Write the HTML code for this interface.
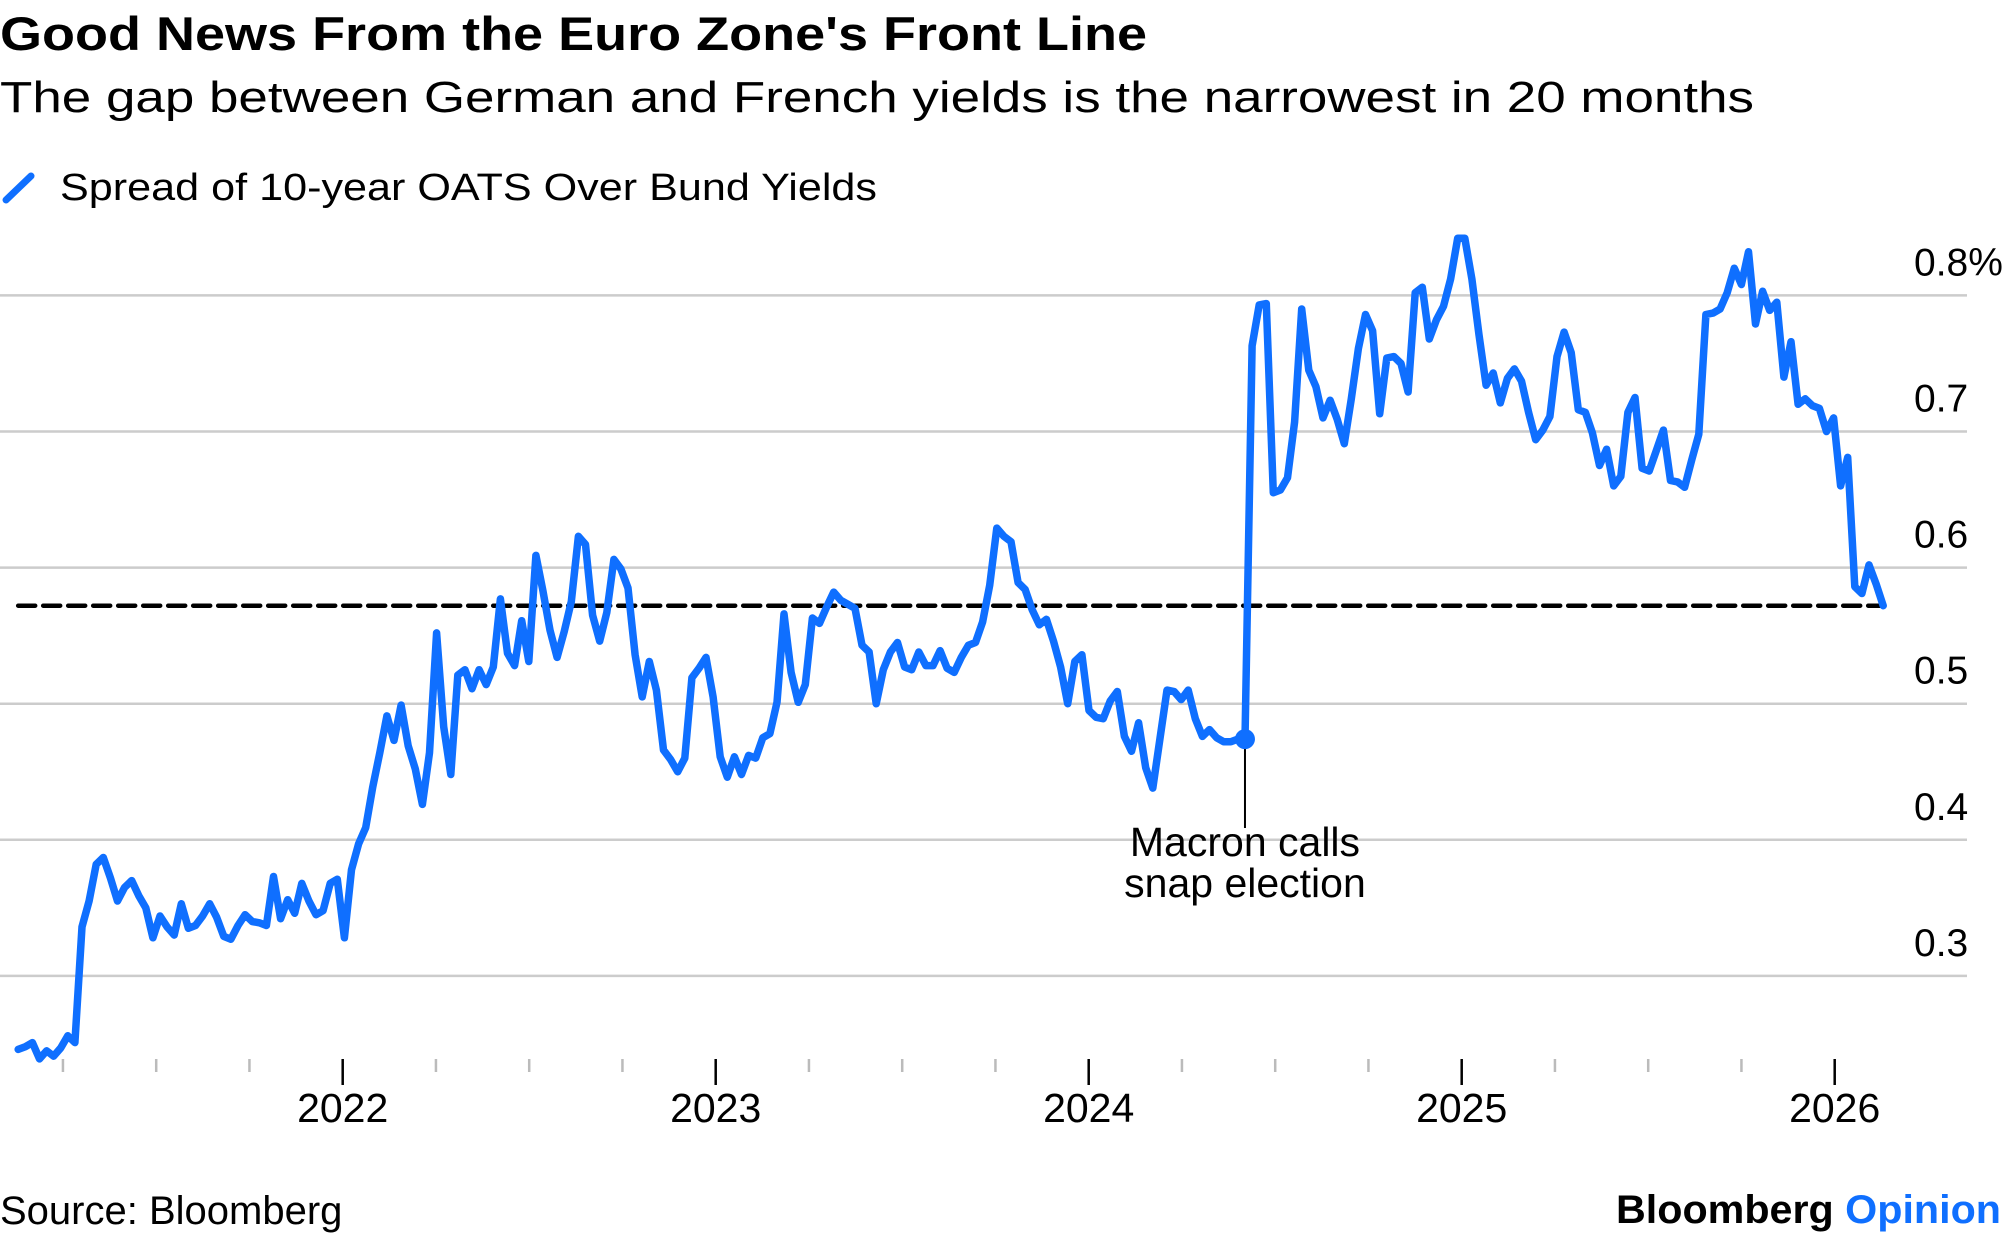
<!DOCTYPE html>
<html><head><meta charset="utf-8">
<style>
html,body{margin:0;padding:0;background:#fff;}
svg{display:block;font-family:"Liberation Sans",sans-serif;}
</style></head>
<body>
<svg id="chart" width="2005" height="1239" viewBox="0 0 2005 1239" xmlns="http://www.w3.org/2000/svg">
  <text x="0" y="50" font-size="47" font-weight="bold" fill="#000" textLength="1147" lengthAdjust="spacingAndGlyphs">Good News From the Euro Zone's Front Line</text>
  <text x="0" y="112" font-size="44" fill="#000" textLength="1754" lengthAdjust="spacingAndGlyphs">The gap between German and French yields is the narrowest in 20 months</text>
  <g>
    <line x1="6" y1="200" x2="31" y2="176" stroke="#0f6fff" stroke-width="7" stroke-linecap="round"/>
    <text x="60" y="200" font-size="38" fill="#000" textLength="817" lengthAdjust="spacingAndGlyphs">Spread of 10-year OATS Over Bund Yields</text>
  </g>
  <g id="grid"></g>
  <g id="yaxis"></g>
  <g id="xaxis"></g>
  <g id="series"></g>
  <text x="0" y="1224" font-size="40" fill="#000">Source: Bloomberg</text>
  <text x="2001" y="1223" font-size="40" font-weight="bold" text-anchor="end" fill="#000" textLength="385" lengthAdjust="spacingAndGlyphs">Bloomberg <tspan fill="#0f6fff">Opinion</tspan></text>
</svg>
<script>
const yTicks = [0.3, 0.4, 0.5, 0.6, 0.7, 0.8];
const yTickLabels = ["0.3", "0.4", "0.5", "0.6", "0.7", "0.8%"];
const xYears = [2022, 2023, 2024, 2025, 2026];
const startYear = 2021.13;
const endYear = 2026.13;
const referenceLevel = 0.572;
const annotationText = ["Macron calls", "snap election"];
const spreadValues = [
0.246,0.248,0.251,0.239,0.245,0.241,0.247,0.256,0.251,0.336,
0.355,0.382,0.387,0.372,0.355,0.365,0.370,0.359,0.350,0.328,
0.344,0.336,0.330,0.353,0.335,0.337,0.344,0.353,0.343,0.329,
0.327,0.337,0.345,0.340,0.339,0.337,0.373,0.342,0.356,0.346,
0.368,0.355,0.345,0.348,0.368,0.371,0.328,0.378,0.397,0.409,
0.439,0.464,0.491,0.473,0.499,0.469,0.452,0.426,0.464,0.552,
0.483,0.448,0.521,0.525,0.511,0.525,0.514,0.527,0.577,0.537,
0.528,0.561,0.531,0.609,0.583,0.554,0.534,0.553,0.575,0.623,
0.617,0.565,0.546,0.567,0.606,0.599,0.585,0.536,0.505,0.531,
0.510,0.466,0.459,0.450,0.460,0.519,0.526,0.534,0.505,0.461,
0.446,0.461,0.448,0.462,0.460,0.475,0.478,0.501,0.566,0.523,
0.501,0.514,0.563,0.559,0.571,0.582,0.576,0.573,0.570,0.543,
0.538,0.500,0.525,0.538,0.545,0.527,0.525,0.538,0.528,0.528,
0.539,0.526,0.523,0.534,0.543,0.545,0.560,0.587,0.629,0.623,
0.619,0.589,0.584,0.569,0.558,0.562,0.546,0.527,0.500,0.531,
0.536,0.495,0.490,0.489,0.502,0.509,0.476,0.465,0.486,0.453,
0.438,0.474,0.510,0.509,0.503,0.510,0.489,0.476,0.481,0.475,
0.472,0.472,0.474,0.474,
0.763,0.793,0.794,0.655,0.657,0.666,0.707,0.790,0.745,0.733,
0.710,0.723,0.709,0.691,0.724,0.761,0.786,0.774,0.713,0.754,
0.755,0.750,0.729,0.802,0.806,0.768,0.782,0.792,0.812,0.842,
0.842,0.812,0.771,0.734,0.743,0.721,0.739,0.746,0.737,0.714,
0.694,0.701,0.711,0.755,0.773,0.758,0.716,0.714,0.699,0.675,
0.687,0.660,0.667,0.714,0.725,0.673,0.671,0.686,0.701,0.664,
0.663,0.659,0.679,0.698,0.786,0.787,0.790,0.802,0.820,0.808,
0.832,0.779,0.803,0.789,0.795,0.740,0.766,0.720,0.724,0.719,
0.717,0.700,0.710,0.660,0.681,0.586,0.581,0.602,0.588,0.572
];

const NS = "http://www.w3.org/2000/svg";
const X0 = 342.7, PX_PER_YEAR = 373;
const Y0 = 295.4, PX_PER_UNIT = 1361;
function xScale(d){ return X0 + (d - 2022) * PX_PER_YEAR; }
function yScale(v){ return Y0 + (0.8 - v) * PX_PER_UNIT; }
function mk(tag, attrs, parent){
  const el = document.createElementNS(NS, tag);
  for (const k in attrs) el.setAttribute(k, attrs[k]);
  parent.appendChild(el);
  return el;
}
const grid = document.getElementById('grid');
const yaxis = document.getElementById('yaxis');
const xaxis = document.getElementById('xaxis');
const series = document.getElementById('series');

yTicks.forEach((v, i) => {
  const gl = mk('line', {x1:0, x2:1967, y1:yScale(v), y2:yScale(v), stroke:'#cccccc', 'stroke-width':2.5}, grid);
  
  
  const t = mk('text', {x:1914, y:yScale(v) - 20, 'font-size':39, fill:'#000'}, yaxis);
  t.textContent = yTickLabels[i];
  
  
});

for (let q = Math.ceil(startYear * 4); q / 4 <= endYear; q++) {
  const d = q / 4;
  const major = (q % 4 === 0);
  const tk = mk('line', {x1:xScale(d), x2:xScale(d), y1:1059, y2: major ? 1085 : 1072, stroke: major ? '#000' : '#bbbbbb', 'stroke-width':2.5}, xaxis);
  
  
}
xYears.forEach(y => {
  const t = mk('text', {x:xScale(y), y:1122, 'font-size':41, 'text-anchor':'middle', fill:'#000'}, xaxis);
  t.textContent = String(y);
  
  
});

const n = spreadValues.length;
const step = (endYear - startYear) / (n - 1);
const dateAt = i => startYear + i * step;

const ref = mk('line', {x1:xScale(startYear), x2:xScale(endYear), y1:yScale(referenceLevel), y2:yScale(referenceLevel), stroke:'#000', 'stroke-width':4.5, 'stroke-dasharray':'17 8', 'stroke-linecap':'round'}, series);



const pts = spreadValues.map((v, i) => xScale(dateAt(i)).toFixed(1) + ',' + yScale(v).toFixed(1)).join(' ');
const line = mk('polyline', {points:pts, fill:'none', stroke:'#0f6fff', 'stroke-width':7.5, 'stroke-linejoin':'round', 'stroke-linecap':'round'}, series);



let jumpIdx = 0, best = -1;
for (let i = 0; i < n - 1; i++) {
  const j = spreadValues[i + 1] - spreadValues[i];
  if (j > best) { best = j; jumpIdx = i; }
}
const ax = xScale(dateAt(jumpIdx)), ay = yScale(spreadValues[jumpIdx]);
const aline = mk('line', {x1:ax, x2:ax, y1:ay, y2:828, stroke:'#000', 'stroke-width':2}, series);


const dot = mk('circle', {cx:ax, cy:ay, r:10, fill:'#0f6fff'}, series);


annotationText.forEach((s, i) => {
  const t = mk('text', {x:ax, y:856 + i * 41, 'font-size':41, 'text-anchor':'middle', fill:'#000'}, series);
  t.textContent = s;
  
  
});
</script>
</body></html>
